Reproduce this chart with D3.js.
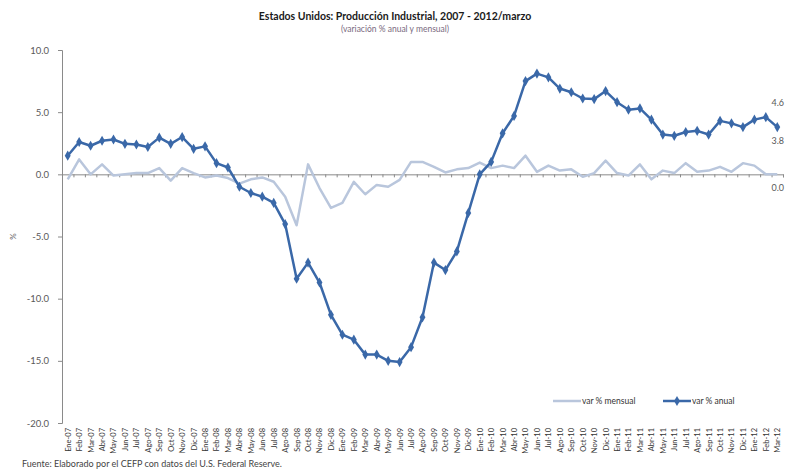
<!DOCTYPE html>
<html>
<head>
<meta charset="utf-8">
<script src="https://cdn.jsdelivr.net/npm/d3@7"></script>
<style>
  body { margin: 0; background: #fff; }
  text { font-family: Lato, "Open Sans", sans-serif; }
</style>
</head>
<body>
<div id="chart-area"></div>
<script>
// months Ene-07 .. Mar-12
var meses = ['Ene-07','Feb-07','Mar-07','Abr-07','May-07','Jun-07','Jul-07','Ago-07','Sep-07','Oct-07','Nov-07','Dic-07',
             'Ene-08','Feb-08','Mar-08','Abr-08','May-08','Jun-08','Jul-08','Ago-08','Sep-08','Oct-08','Nov-08','Dic-08',
             'Ene-09','Feb-09','Mar-09','Abr-09','May-09','Jun-09','Jul-09','Ago-09','Sep-09','Oct-09','Nov-09','Dic-09',
             'Ene-10','Feb-10','Mar-10','Abr-10','May-10','Jun-10','Jul-10','Ago-10','Sep-10','Oct-10','Nov-10','Dic-10',
             'Ene-11','Feb-11','Mar-11','Abr-11','May-11','Jun-11','Jul-11','Ago-11','Sep-11','Oct-11','Nov-11','Dic-11',
             'Ene-12','Feb-12','Mar-12'];

var varAnual = [1.5, 2.6, 2.3, 2.7, 2.8, 2.45, 2.4, 2.2, 2.95, 2.45, 3.0, 2.05,
                2.25, 0.9, 0.55, -1.0, -1.5, -1.8, -2.3, -4.0, -8.4, -7.1, -8.7, -11.3,
                -12.9, -13.3, -14.5, -14.5, -15.0, -15.1, -13.9, -11.5, -7.1, -7.7, -6.2, -3.1,
                0.0, 1.0, 3.3, 4.7, 7.5, 8.1, 7.8, 6.9, 6.6, 6.1, 6.05, 6.7,
                5.8, 5.2, 5.3, 4.4, 3.2, 3.1, 3.4, 3.5, 3.2, 4.3, 4.1, 3.8,
                4.4, 4.6, 3.8];

var varMensual = [-0.4, 1.2, 0.0, 0.8, -0.1, 0.0, 0.1, 0.1, 0.5, -0.5, 0.5, 0.1,
                  -0.25, -0.1, -0.3, -0.75, -0.4, -0.25, -0.6, -1.8, -4.1, 0.8, -1.1, -2.7,
                  -2.3, -0.6, -1.6, -0.85, -1.0, -0.45, 1.0, 1.0, 0.6, 0.15, 0.4, 0.5,
                  0.95, 0.5, 0.7, 0.5, 1.5, 0.2, 0.7, 0.3, 0.4, -0.2, 0.1, 1.1,
                  0.1, -0.1, 0.8, -0.4, 0.3, 0.1, 0.9, 0.2, 0.3, 0.6, 0.2, 0.9,
                  0.7, 0.0, 0.0];

var yTicks = [10, 5, 0, -5, -10, -15, -20];

// value labels shown at the right end: [month, value]
var etiquetas = [['Feb-12', 4.6], ['Mar-12', 3.8], ['Mar-12', 0.0]];

var svgWidth = 785, svgHeight = 470;
var colAnual = '#3a68a8', colMensual = '#b9c6dc', colAxis = '#8a8a8a', colText = '#595959';

var svg = d3.select('#chart-area')
            .append('svg')
            .attr('width', svgWidth)
            .attr('height', svgHeight);

var xScale = d3.scalePoint()
               .domain(meses)
               .range([62, 783])
               .padding(0.5);

var xIdx = d3.scaleLinear().domain([0, meses.length]).range([62, 783]);

var yScale = d3.scaleLinear()
               .domain([-20, 10])
               .range([423, 50]);

// titles
svg.append('text')
   .attr('x', 395).attr('y', 20)
   .attr('text-anchor', 'middle')
   .attr('font-size', '10.5px').attr('font-weight', 'bold')
   .attr('fill', '#1a1a1a')
   .text('Estados Unidos: Producción Industrial, 2007 - 2012/marzo');

svg.append('text')
   .attr('x', 395).attr('y', 32)
   .attr('text-anchor', 'middle')
   .attr('font-size', '8.5px')
   .attr('fill', '#7a6a80')
   .text('(variación % anual y mensual)');

// y axis
var yAxis = d3.axisLeft(yScale)
              .tickValues(yTicks)
              .tickSize(4);

var gy = svg.append('g')
            .attr('transform', 'translate(62,0)')
            .call(yAxis);
gy.select('.domain').attr('stroke', colAxis);
gy.selectAll('.tick line').attr('stroke', colAxis);
gy.selectAll('.tick text')
  .attr('x', -13)
  .attr('font-size', '9.5px')
  .attr('font-family', 'Lato, sans-serif')
  .attr('fill', colText)
  .text(function(d){ return d3.format('.1f')(d).replace('−', '-'); });

svg.append('text')
   .attr('transform', 'translate(16,' + yScale(-5) + ') rotate(-90)')
   .attr('text-anchor', 'middle')
   .attr('font-size', '8px')
   .attr('fill', colText)
   .text('%');

// zero line with category ticks
var zeroAxis = d3.axisBottom(xIdx)
                 .tickValues(d3.range(0, meses.length + 1))
                 .tickSize(3)
                 .tickFormat('');
var gz = svg.append('g')
            .attr('transform', 'translate(0,' + yScale(0) + ')')
            .call(zeroAxis);
gz.select('.domain').attr('stroke', colAxis);
gz.selectAll('.tick line').attr('stroke', colAxis);

// month labels at bottom
var xAxis = d3.axisBottom(xScale).tickSize(0);
var gx = svg.append('g')
            .attr('transform', 'translate(0,' + yScale(-20) + ')')
            .call(xAxis);
gx.select('.domain').remove();
gx.selectAll('.tick text')
  .attr('transform', 'rotate(-90)')
  .attr('text-anchor', 'end')
  .attr('x', -5)
  .attr('y', 0)
  .attr('dy', '0.32em')
  .attr('font-size', '7.5px')
  .attr('font-family', '"Liberation Sans", Arial, sans-serif')
  .attr('fill', '#333');

// lines
var linea = d3.line()
              .x(function(d, i){ return xScale(meses[i]); })
              .y(function(d){ return yScale(d); });

svg.append('path')
   .datum(varMensual)
   .attr('d', linea)
   .attr('fill', 'none')
   .attr('stroke', colMensual)
   .attr('stroke-width', 2.5)
   .attr('stroke-linejoin', 'round');

svg.append('path')
   .datum(varAnual)
   .attr('d', linea)
   .attr('fill', 'none')
   .attr('stroke', colAnual)
   .attr('stroke-width', 2.5)
   .attr('stroke-linejoin', 'round');

var diamond = d3.symbol().type(d3.symbolDiamond).size(30);

svg.selectAll('.pt')
   .data(varAnual)
   .enter()
   .append('path')
   .attr('class', 'pt')
   .attr('d', diamond)
   .attr('transform', function(d, i){ return 'translate(' + xScale(meses[i]) + ',' + yScale(d) + ')'; })
   .attr('fill', colAnual);

// end labels, kept inside the picture
svg.selectAll('.lbl')
   .data(etiquetas)
   .enter()
   .append('text')
   .attr('class', 'lbl')
   .attr('x', 784)
   .attr('text-anchor', 'end')
   .attr('y', function(d){ return yScale(d[1]) + (d[0] === 'Feb-12' ? -11 : 17); })
   .attr('font-size', '9px')
   .attr('fill', colText)
   .text(function(d){ return d3.format('.1f')(d[1]); });

// legend
var legend = svg.append('g').attr('transform', 'translate(553,401)');
legend.append('line').attr('x1', 0).attr('x2', 28).attr('y1', 0).attr('y2', 0)
      .attr('stroke', colMensual).attr('stroke-width', 2.5);
legend.append('text').attr('x', 29).attr('y', 3).attr('font-size', '8.5px').attr('fill', '#333')
      .text('var % mensual');
legend.append('line').attr('x1', 110).attr('x2', 138).attr('y1', 0).attr('y2', 0)
      .attr('stroke', colAnual).attr('stroke-width', 2.5);
legend.append('path').attr('d', diamond).attr('transform', 'translate(124,0)').attr('fill', colAnual);
legend.append('text').attr('x', 139).attr('y', 3).attr('font-size', '8.5px').attr('fill', '#333')
      .text('var % anual');

// source note
svg.append('text')
   .attr('x', 22).attr('y', 467)
   .attr('font-size', '9px')
   .attr('fill', '#444')
   .text('Fuente: Elaborado por el CEFP con datos del U.S. Federal Reserve.');
</script>
</body>
</html>
